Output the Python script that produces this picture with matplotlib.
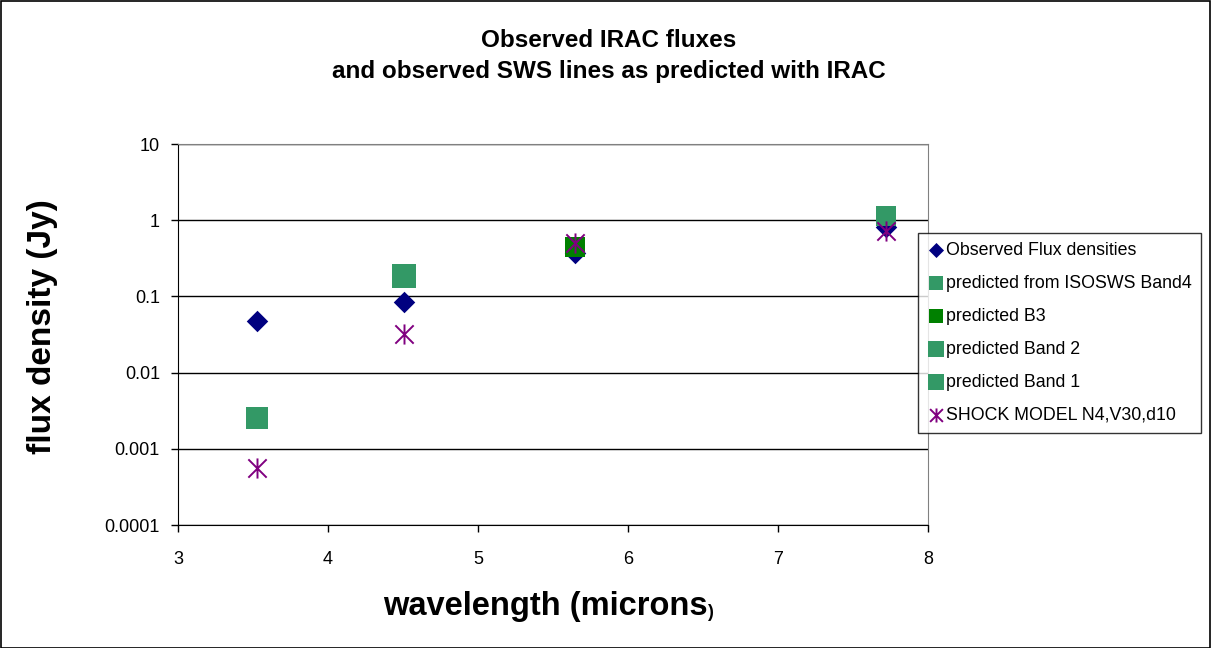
import matplotlib
matplotlib.use("Agg")
import matplotlib.pyplot as plt
from matplotlib.patches import Rectangle
from matplotlib.path import Path

plt.rcParams['font.family'] = ['Liberation Sans', 'DejaVu Sans']

wl = [3.53, 4.51, 5.65, 7.72]
observed = [0.0475, 0.0845, 0.37, 0.81]
band4_x, band4_y = [7.72], [1.13]
b3_x, b3_y = [5.65], [0.45]
band2_x, band2_y = [4.51], [0.185]
band1_x, band1_y = [3.53], [0.00254]
shock = [0.00056, 0.032, 0.50, 0.72]

title = "Observed IRAC fluxes\nand observed SWS lines as predicted with IRAC"
xlabel_main = "wavelength (microns"
xlabel_tail = ")"
ylabel = "flux density (Jy)"
yticks = [0.0001, 0.001, 0.01, 0.1, 1, 10]
ytick_labels = ["0.0001", "0.001", "0.01", "0.1", "1", "10"]
xticks = [3, 4, 5, 6, 7, 8]

# X-with-vertical-bar asterisk, like the spreadsheet's marker
star = Path([(-1, -1), (1, 1), (-1, 1), (1, -1), (0, -1.1), (0, 1.1)],
            [Path.MOVETO, Path.LINETO, Path.MOVETO, Path.LINETO, Path.MOVETO, Path.LINETO])

W, H = 1211, 648
fig = plt.figure(figsize=(W/100, H/100), dpi=100)
fig.patches.append(Rectangle((0.5/W, 0.5/H), 1-1.5/W, 1-1.5/H, transform=fig.transFigure,
                             fill=False, edgecolor='black', linewidth=1.2))
ax = fig.add_axes([178/W, 1-525/H, (928-178)/W, (525-144)/H])

green = '#339966'
ax.scatter(wl, observed, marker='D', s=120, color='#000080', zorder=3, label='Observed Flux densities', linewidths=0)
ax.scatter(band4_x, band4_y, marker='s', s=200, color=green, zorder=3, label='predicted from ISOSWS Band4', linewidths=0)
ax.scatter(b3_x, b3_y, marker='s', s=200, color='#008000', zorder=3, label='predicted B3', linewidths=0)
ax.scatter(band2_x, band2_y, marker='s', s=300, color=green, zorder=3, label='predicted Band 2', linewidths=0)
ax.scatter(band1_x, band1_y, marker='s', s=250, color=green, zorder=3, label='predicted Band 1', linewidths=0)
ax.scatter(wl, shock, marker=star, s=210, color='#800080', zorder=4, label='SHOCK MODEL N4,V30,d10', linewidths=1.4)

ax.set_yscale('log')
ax.set_ylim(0.0001, 10)
ax.set_xlim(3, 8)
ax.set_yticks(yticks)
ax.set_yticklabels(ytick_labels)
ax.minorticks_off()
ax.set_xticks(xticks)
ax.tick_params(axis='both', labelsize=13, direction='out', length=5, width=1)
ax.tick_params(axis='x', pad=14)
ax.tick_params(axis='y', pad=8)
ax.yaxis.grid(True, color='black', linewidth=1)
ax.set_axisbelow(True)
for s in ['top', 'right']:
    ax.spines[s].set_color('#808080')
for s in ['left', 'bottom']:
    ax.spines[s].set_color('black')

fig.text(609/W, 1-56/H, title, ha='center', va='center', fontsize=17.5, fontweight='bold', linespacing=1.45)
t = fig.text(545/W, 1-607/H, xlabel_main, ha='center', va='center', fontsize=23.5, fontweight='bold')
ax.annotate(xlabel_tail, xy=(1.0, 0.05), xycoords=t, fontsize=13, fontweight='bold', ha='left', va='bottom')
fig.text(43/W, 1-327/H, ylabel, ha='center', va='center', fontsize=24, fontweight='bold', rotation=90)

leg = ax.legend(loc='upper left', bbox_to_anchor=(918/W, 1-233/H), bbox_transform=fig.transFigure,
                frameon=True, fancybox=False, edgecolor='black', fontsize=12.8, handletextpad=0.1,
                borderaxespad=0, labelspacing=0.9, handlelength=1.0, borderpad=0.5, markerscale=0.7)
leg.get_frame().set_linewidth(1)

fig.savefig('out.png', dpi=100)
